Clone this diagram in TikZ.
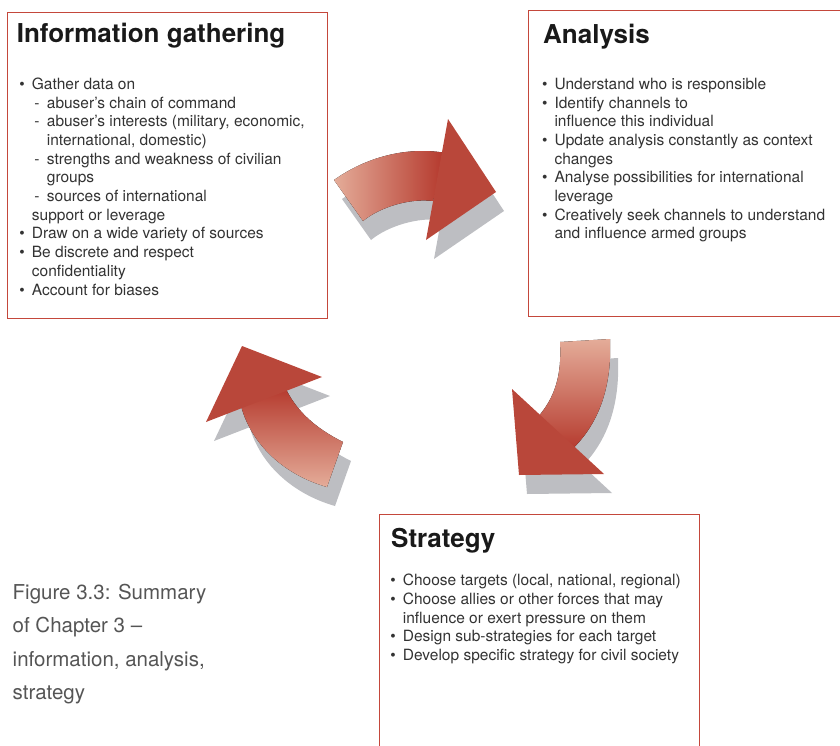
\documentclass[tikz,border=0pt]{standalone}
\usepackage{fontspec}
\setmainfont{TeX Gyre Heros}
\usetikzlibrary{positioning}
\definecolor{boxred}{HTML}{C4473B}
\definecolor{headc}{HTML}{B9473A}
\definecolor{darkc}{HTML}{B4372B}
\definecolor{lightc}{HTML}{E4AC99}
\definecolor{shadowc}{HTML}{BDBEC2}
\definecolor{bodyc}{HTML}{333333}
\definecolor{capc}{HTML}{555555}
\tikzset{
  panel/.style={draw=boxred, line width=1.2pt, fill=white, anchor=north west, inner sep=0pt},
  ttl/.style={font=\fontsize{26}{30}\selectfont\bfseries, text=black!90, anchor=base west, inner sep=0pt},
  % multi-line nodes: the base anchor sits on the last line
  items/.style={font=\fontsize{15.5}{18.7}\selectfont, text=bodyc, align=left, anchor=base west, inner sep=0pt},
  captxt/.style={font=\fontsize{20.5}{33.3}\selectfont, text=capc, align=left, anchor=base west, inner sep=0pt},
  shadowfill/.style={fill=shadowc},
  arrhead/.style={fill=headc},
}
\newcommand{\itm}{\makebox[12.5pt][l]{\textbullet}}
\newcommand{\cnt}{\hspace*{12.5pt}}
\newcommand{\subitm}{\hspace*{15pt}\makebox[12.5pt][l]{-}}
\newcommand{\subcnt}{\hspace*{27.5pt}}

\begin{document}
\begin{tikzpicture}[x=1pt, y=-1pt]
\useasboundingbox (0,0) rectangle (840,746);

% ---------------- the three panels ----------------
\node[panel, minimum width=320, minimum height=306] (info) at (7,12) {};
\node[panel, minimum width=330, minimum height=306] (analysis) at (528,10) {};
\node[panel, minimum width=320, minimum height=250] (strategy) at (379,514) {};

\node[ttl] (infottl) at (16.6,42.5) {Information gathering};
\node[items] (infotxt) at (19.2,295) {\itm Gather data on\\
  \subitm abuser’s chain of command\\
  \subitm abuser’s interests (military, economic,\\
  \subcnt international, domestic)\\
  \subitm strengths and weakness of civilian\\
  \subcnt groups\\
  \subitm sources of international\\
  \cnt support or leverage\\
  \itm Draw on a wide variety of sources\\
  \itm Be discrete and respect\\
  \cnt confidentiality\\
  \itm Account for biases};

\node[ttl] (analysisttl) at (543,44) {Analysis};
\node[items] (analysistxt) at (541.8,238.9) {\itm Understand who is responsible\\
  \itm Identify channels to\\
  \cnt influence this individual\\
  \itm Update analysis constantly as context\\
  \cnt changes\\
  \itm Analyse possibilities for international\\
  \cnt leverage\\
  \itm Creatively seek channels to understand\\
  \cnt and influence armed groups};

\node[ttl] (strategyttl) at (391,547) {Strategy};
\node[items] (strategytxt) at (390.2,660.5) {\itm Choose targets (local, national, regional)\\
  \itm Choose allies or other forces that may\\
  \cnt influence or exert pressure on them\\
  \itm Design sub-strategies for each target\\
  \itm Develop specific strategy for civil society};

% ---------------- caption ----------------
\node[captxt] (caption) at (12.5,699.5) {Figure 3.3: Summary\\of Chapter 3 --\\information, analysis,\\strategy};

% ---------------- shadows of the arrows ----------------
\begin{scope}[shift={(8,19)}]
\fill[shadowfill] (334,180) .. controls (365,158) and (405,146) .. (446,153) -- (433,201)
  .. controls (410,198) and (380,207) .. (363,221) -- cycle;
\fill[shadowfill] (448,119) -- (496,192) -- (426,240) -- cycle;
\fill[shadowfill] (560,342) -- (610,339) .. controls (612,385) and (600,425) .. (568,453)
  -- (537,418) .. controls (555,398) and (562,375) .. cycle;
\fill[shadowfill] (512,389) -- (519,475) -- (604,474) -- cycle;
\fill[shadowfill] (343,442) .. controls (315,428) and (295,410) .. (284,385) -- (240,402)
  .. controls (250,445) and (285,475) .. (327,487) -- cycle;
\fill[shadowfill] (242,346) -- (322,377) -- (206,422) -- cycle;
\end{scope}

% ---------------- the arrows ----------------
% information -> analysis
\fill[left color=lightc, right color=darkc] (334,180) .. controls (365,158) and (405,146) .. (446,153)
  -- (433,201) .. controls (410,198) and (380,207) .. (363,221) -- cycle;
\fill[arrhead] (448,119) -- (496,192) -- (426,240) -- cycle;
% analysis -> strategy
\fill[top color=lightc, bottom color=darkc] (560,342) -- (610,339) .. controls (612,385) and (600,425) .. (568,453)
  -- (537,418) .. controls (555,398) and (562,375) .. cycle;
\fill[arrhead] (512,389) -- (519,475) -- (604,474) -- cycle;
% strategy -> information
\fill[top color=darkc, bottom color=lightc] (343,442) .. controls (315,428) and (295,410) .. (284,385)
  -- (240,402) .. controls (250,445) and (285,475) .. (327,487) -- cycle;
\fill[arrhead] (242,346) -- (322,377) -- (206,422) -- cycle;
\end{tikzpicture}
\end{document}
